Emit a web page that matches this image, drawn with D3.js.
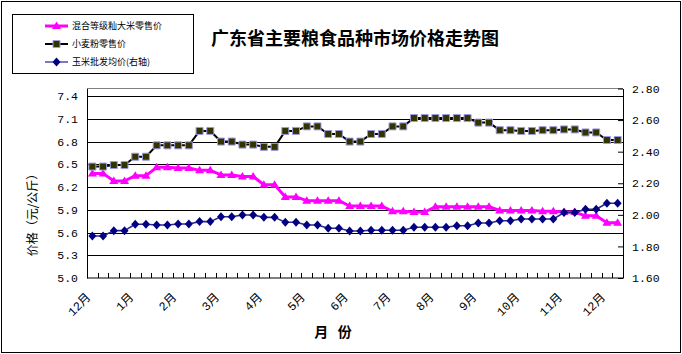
<!DOCTYPE html>
<html>
<head>
<meta charset="utf-8">
<script src="https://cdn.jsdelivr.net/npm/d3@7"></script>
<style>
  body { margin: 0; background: #fff; }
  svg { display: block; }
</style>
</head>
<body>
<div id="viz"></div>
<script>
// month tick labels, one every 4 periods
const monthLabels = ['12月', '1月', '2月', '3月', '4月', '5月', '6月', '7月', '8月', '9月', '10月', '11月', '12月'];
const labelEvery = 4;

// 混合等级籼大米零售价 (left axis)
const rice = [6.38, 6.38, 6.28, 6.28, 6.35, 6.35, 6.46, 6.46, 6.45, 6.45,
              6.42, 6.42, 6.36, 6.36, 6.34, 6.34, 6.23, 6.23, 6.07, 6.07,
              6.02, 6.02, 6.02, 6.02, 5.95, 5.95, 5.95, 5.95, 5.88, 5.88,
              5.87, 5.87, 5.94, 5.94, 5.94, 5.94, 5.94, 5.94, 5.89, 5.89,
              5.89, 5.89, 5.88, 5.88, 5.87, 5.87, 5.82, 5.82, 5.73, 5.73];

// 小麦粉零售价 (left axis)
const flour = [6.47, 6.47, 6.49, 6.49, 6.60, 6.60, 6.75, 6.75, 6.75, 6.75,
               6.94, 6.94, 6.80, 6.80, 6.76, 6.76, 6.73, 6.73, 6.94, 6.94,
               7.00, 7.00, 6.90, 6.90, 6.80, 6.80, 6.90, 6.90, 7.00, 7.00,
               7.11, 7.11, 7.11, 7.11, 7.11, 7.11, 7.05, 7.05, 6.95, 6.95,
               6.94, 6.94, 6.95, 6.95, 6.96, 6.96, 6.92, 6.92, 6.82, 6.82];

// 玉米批发均价 (right axis)
const corn = [1.866, 1.866, 1.900, 1.900, 1.940, 1.940, 1.936, 1.936, 1.942, 1.942,
              1.957, 1.957, 1.988, 1.988, 1.999, 1.999, 1.984, 1.984, 1.953, 1.953,
              1.936, 1.936, 1.915, 1.915, 1.898, 1.898, 1.902, 1.902, 1.902, 1.902,
              1.921, 1.921, 1.921, 1.921, 1.931, 1.931, 1.948, 1.948, 1.963, 1.963,
              1.974, 1.974, 1.974, 1.974, 2.014, 2.014, 2.035, 2.035, 2.073, 2.073];

const leftTicks = [5.0, 5.3, 5.6, 5.9, 6.2, 6.5, 6.8, 7.1, 7.4];
const rightTicks = [1.6, 1.8, 2.0, 2.2, 2.4, 2.6, 2.8];

let width = 682, height = 354;
let plot = { left: 87, right: 623, top: 88.5, bottom: 278 };
let numFont = '"Liberation Mono", monospace';
let cjkFont = '"Noto Sans CJK SC", sans-serif';

let svg = d3.select('#viz').append('svg')
    .attr('width', width)
    .attr('height', height);

svg.append('rect')
    .attr('x', 1.5).attr('y', 1.5)
    .attr('width', 679).attr('height', 351)
    .attr('fill', '#fff')
    .attr('stroke', '#000');

let xScale = d3.scaleBand()
    .domain(d3.range(rice.length))
    .range([plot.left, plot.right]);
let yLeft = d3.scaleLinear().domain([5.0, 7.5]).range([plot.bottom, plot.top]);
let yRight = d3.scaleLinear().domain([1.6, 2.8]).range([plot.bottom, plot.top]);
let cx = (i) => xScale(i) + xScale.bandwidth() / 2;

// gridlines
svg.append('g')
    .selectAll('line')
    .data(leftTicks.filter((d) => d > 5.0))
    .enter().append('line')
    .attr('x1', plot.left).attr('x2', plot.right)
    .attr('y1', (d) => Math.round(yLeft(d)) + 0.5)
    .attr('y2', (d) => Math.round(yLeft(d)) + 0.5)
    .attr('stroke', '#000');

svg.append('line')
    .attr('x1', plot.left).attr('x2', plot.right)
    .attr('y1', plot.top).attr('y2', plot.top)
    .attr('stroke', '#808080');

// left axis
let leftAxis = svg.append('g')
    .attr('transform', 'translate(' + plot.left + ',0)')
    .call(d3.axisLeft(yLeft).tickValues(leftTicks).tickSize(0).tickPadding(9)
        .tickFormat((d) => d.toFixed(1)));

// right axis
let rightAxis = svg.append('g')
    .attr('transform', 'translate(' + plot.right + ',0)')
    .call(d3.axisRight(yRight).tickValues(rightTicks).tickSizeInner(-5).tickSizeOuter(0).tickPadding(9)
        .tickFormat((d) => d.toFixed(2)));

[leftAxis, rightAxis].forEach((g) => {
    g.select('.domain').attr('stroke', '#000');
    g.selectAll('text')
        .style('font-family', numFont)
        .style('font-size', '11.5px')
        .attr('fill', '#000');
});

// bottom axis with inner ticks at every period boundary
svg.append('line')
    .attr('x1', plot.left).attr('x2', plot.right)
    .attr('y1', plot.bottom).attr('y2', plot.bottom)
    .attr('stroke', '#000');

svg.append('g')
    .selectAll('line')
    .data(d3.range(rice.length + 1))
    .enter().append('line')
    .attr('x1', (i) => Math.round(plot.left + i * xScale.bandwidth()) + 0.5)
    .attr('x2', (i) => Math.round(plot.left + i * xScale.bandwidth()) + 0.5)
    .attr('y1', plot.bottom)
    .attr('y2', plot.bottom - 5)
    .attr('stroke', '#000');

svg.append('g')
    .selectAll('text')
    .data(monthLabels)
    .enter().append('text')
    .attr('transform', (d, i) => 'translate(' + (cx(i * labelEvery) - 1) + ',' + (plot.bottom + 20) + ') rotate(-45)')
    .attr('text-anchor', 'end')
    .style('font-family', numFont + ',' + cjkFont)
    .style('font-size', '12px')
    .text((d) => d);

// series
let seriesList = [
    { name: '混合等级籼大米零售价', values: rice, y: yLeft, color: '#ff00ff', width: 3, marker: 'triangle' },
    { name: '小麦粉零售价', values: flour, y: yLeft, color: '#000', width: 2, marker: 'square' },
    { name: '玉米批发均价(右轴)', values: corn, y: yRight, color: '#2b2b95', width: 1.6, marker: 'diamond' }
];

let markerPath = {
    triangle: 'M0,-4.5L4.5,3L-4.5,3Z',
    square: 'M-3.5,-3.5H3.5V3.5H-3.5Z',
    diamond: 'M0,-4.5L4,0L0,4.5L-4,0Z'
};
let markerFill = { triangle: '#ff00ff', square: '#333300', diamond: '#000080' };
let markerStroke = { triangle: 'none', square: '#9c9ce0', diamond: 'none' };

seriesList.forEach((s) => {
    let line = d3.line()
        .x((d, i) => cx(i))
        .y((d) => s.y(d));

    svg.append('path')
        .datum(s.values)
        .attr('d', line)
        .attr('fill', 'none')
        .attr('stroke', s.color)
        .attr('stroke-width', s.width)
        .attr('stroke-linejoin', 'round');

    svg.append('g')
        .selectAll('path')
        .data(s.values)
        .enter().append('path')
        .attr('d', markerPath[s.marker])
        .attr('transform', (d, i) => 'translate(' + cx(i) + ',' + s.y(d) + ')')
        .attr('fill', markerFill[s.marker])
        .attr('stroke', markerStroke[s.marker])
        .attr('stroke-width', 1);
});

// legend
let legend = svg.append('g');
legend.append('rect')
    .attr('x', 12.5).attr('y', 14.5)
    .attr('width', 181).attr('height', 59)
    .attr('fill', '#fff')
    .attr('stroke', '#000');

let legendRows = legend.selectAll('g.row')
    .data(seriesList)
    .enter().append('g')
    .attr('class', 'row')
    .attr('transform', (d, i) => 'translate(0,' + (26 + i * 18) + ')');

legendRows.append('line')
    .attr('x1', 45).attr('x2', 68)
    .attr('stroke', (d) => d.marker === 'diamond' ? '#5a5aa8' : d.color)
    .attr('stroke-width', (d) => d.width);

legendRows.append('path')
    .attr('d', (d) => markerPath[d.marker])
    .attr('transform', 'translate(56.5,0)')
    .attr('fill', (d) => markerFill[d.marker])
    .attr('stroke', (d) => markerStroke[d.marker]);

legendRows.append('text')
    .attr('x', 72)
    .attr('dy', '0.35em')
    .style('font-family', cjkFont)
    .style('font-size', '9px')
    .text((d) => d.name);

// titles
svg.append('text')
    .attr('x', 355).attr('y', 45)
    .attr('text-anchor', 'middle')
    .style('font-family', cjkFont)
    .style('font-size', '18px')
    .style('font-weight', 'bold')
    .text('广东省主要粮食品种市场价格走势图');

svg.append('text')
    .attr('transform', 'translate(37,212) rotate(-90)')
    .attr('text-anchor', 'middle')
    .style('font-family', cjkFont)
    .style('font-size', '12px')
    .text('价格（元/公斤）');

svg.append('text')
    .attr('x', 333).attr('y', 337)
    .attr('text-anchor', 'middle')
    .style('font-family', cjkFont)
    .style('font-size', '14px')
    .style('font-weight', 'bold')
    .attr('xml:space', 'preserve')
    .style('white-space', 'pre')
    .text('月   份');
</script>
</body>
</html>
